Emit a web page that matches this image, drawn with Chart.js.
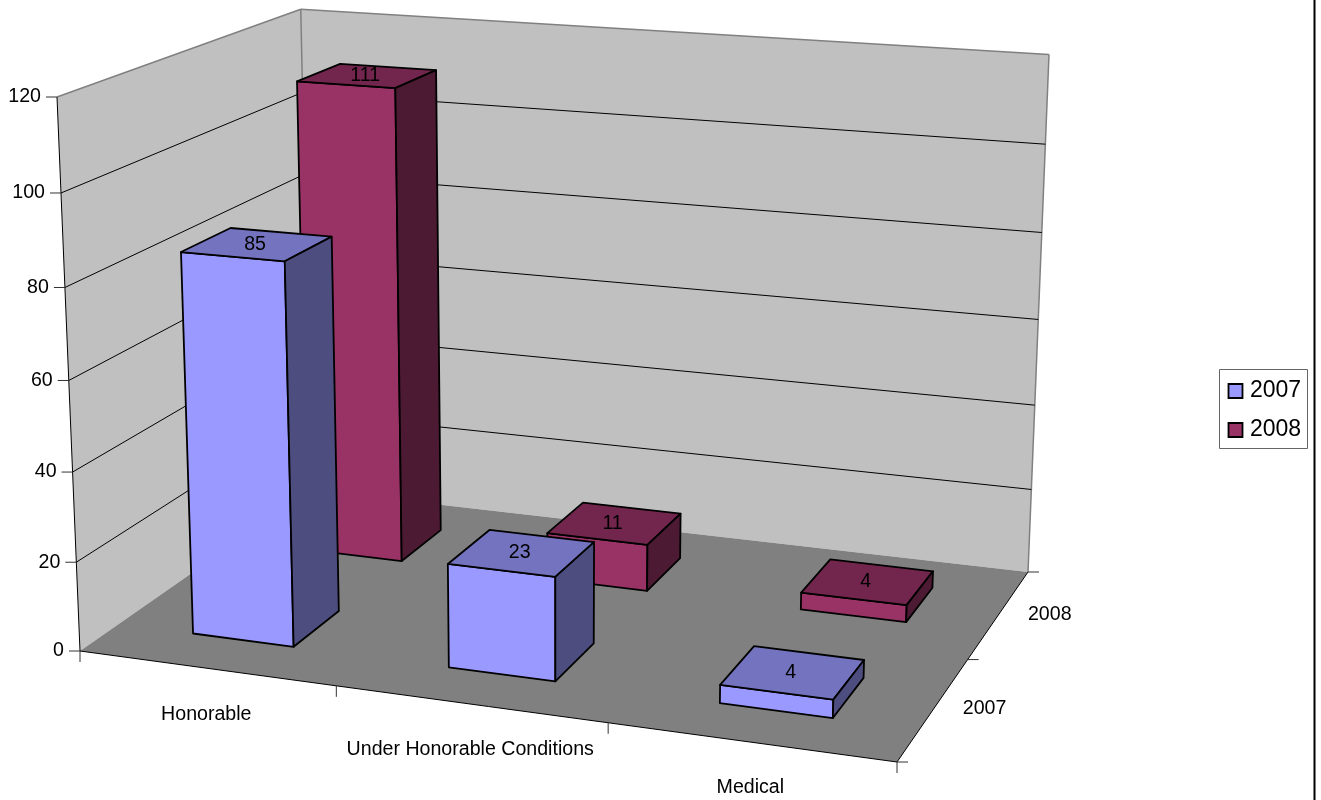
<!DOCTYPE html>
<html>
<head>
<meta charset="utf-8">
<title>Discharges</title>
<script src="https://cdn.jsdelivr.net/npm/chart.js@4/dist/chart.umd.js"></script>
<style>
  body { margin: 0; background: #fff; }
  canvas { display: block; }
</style>
</head>
<body>
<canvas id="chart" width="1321" height="800"></canvas>
<script>
// Dati
const categories = ['Honorable', 'Under Honorable Conditions', 'Medical'];
const seriesNames = ['2007', '2008'];
const values2007 = [85, 23, 4];
const values2008 = [111, 11, 4];
const valueTicks = { min: 0, max: 120, stepSize: 20 };

const FONT = '"Liberation Sans", Arial, sans-serif';
const AXIS_SIZE = 19.6;
const BAR_SHARE = 0.4; // quota di categoria / riga occupata dalla barra

// Angoli della scatola 3D sullo schermo
const box = {
  frontLeft: [80, 651], frontRight: [897, 762],
  backRight: [1028, 572], backLeft: [311, 490],
  topFrontLeft: [57, 97], topBackRight: [1049, 55]
};

// Proiezione prospettica (u categoria, v profondita, w valore; tutti 0..1)
function makeProjection(b) {
  const [Ax, Ay] = b.frontLeft, [Bx, By] = b.frontRight;
  const [Cx, Cy] = b.backRight, [Dx, Dy] = b.backLeft;
  const [Tx, Ty] = b.topFrontLeft, Fx = b.topBackRight[0];
  const dx1 = Bx - Cx, dx2 = Dx - Cx, sx = Ax - Bx + Cx - Dx;
  const dy1 = By - Cy, dy2 = Dy - Cy, sy = Ay - By + Cy - Dy;
  const den = dx1 * dy2 - dx2 * dy1;
  const g = (sx * dy2 - dx2 * sy) / den;
  const h = (dx1 * sy - sx * dy1) / den;
  const a = Bx - Ax + g * Bx, c = Dx - Ax + h * Dx;
  const d = By - Ay + g * By, e = Dy - Ay + h * Dy;
  const k = (Fx * (1 + g + h) - a - c - Tx) / (Tx - Fx);
  const p = Tx * (1 + k) - Ax, q = Ty * (1 + k) - Ay;
  return (u, v, w) => {
    const z = g * u + h * v + k * w + 1;
    // piccola correzione empirica: la parete di fondo sta un po' piu in basso
    return [(a * u + c * v + p * w + Ax) / z, (d * u + e * v + q * w + Ay) / z + 2.5 * v * Math.sqrt(w)];
  };
}
const project = makeProjection(box);

function polygon(ctx, pts, fill, stroke, lineWidth) {
  ctx.beginPath();
  pts.forEach((p, i) => i ? ctx.lineTo(p[0], p[1]) : ctx.moveTo(p[0], p[1]));
  ctx.closePath();
  if (fill) { ctx.fillStyle = fill; ctx.fill(); }
  if (stroke) { ctx.strokeStyle = stroke; ctx.lineWidth = lineWidth; ctx.stroke(); }
}

function line(ctx, p, q, color, lineWidth) {
  ctx.beginPath();
  ctx.moveTo(p[0], p[1]);
  ctx.lineTo(q[0], q[1]);
  ctx.strokeStyle = color;
  ctx.lineWidth = lineWidth;
  ctx.stroke();
}

function label(ctx, text, x, y, align, size) {
  ctx.font = size + 'px ' + FONT;
  ctx.fillStyle = '#000';
  ctx.textAlign = align;
  ctx.textBaseline = 'middle';
  ctx.fillText(text, x, y);
}

// Pareti, pavimento e assi
const box3dWalls = {
  id: 'box3dWalls',
  beforeDatasetsDraw(chart) {
    const ctx = chart.ctx;
    const yScale = chart.scales.y;
    const nCat = categories.length, nSer = seriesNames.length;
    ctx.save();

    polygon(ctx, [project(0,0,0), project(0,1,0), project(0,1,1), project(0,0,1)], '#c0c0c0');
    polygon(ctx, [project(0,1,0), project(1,1,0), project(1,1,1), project(0,1,1)], '#c0c0c0');
    polygon(ctx, [project(0,0,0), project(1,0,0), project(1,1,0), project(0,1,0)], '#808080');

    line(ctx, project(0,0,1), project(0,1,1), '#808080', 1.5);
    line(ctx, project(0,1,1), project(1,1,1), '#808080', 1.5);
    line(ctx, project(0,1,1), project(0,1,0), '#808080', 1.5);
    line(ctx, project(1,1,1), project(1,1,0), '#808080', 1.5);
    line(ctx, project(0,0,1), project(0,0,0), '#000', 1);
    line(ctx, project(0,0,0), project(1,0,0), '#000', 1);
    line(ctx, project(1,0,0), project(1,1,0), '#000', 1);

    // griglia e tacche dei valori
    yScale.ticks.forEach(t => {
      const w = (t.value - yScale.min) / (yScale.max - yScale.min);
      const front = project(0, 0, w);
      if (w > 0 && w < 1) {
        const back = project(0, 1, w);
        line(ctx, front, back, '#000', 1);
        line(ctx, back, project(1, 1, w), '#000', 1);
      }
      line(ctx, [front[0] - 11, front[1]], front, '#333', 1);
      label(ctx, t.label, front[0] - 16, front[1], 'right', AXIS_SIZE);
    });

    // tacche e nomi delle categorie
    for (let i = 0; i <= nCat; i++) {
      const p = project(i / nCat, 0, 0);
      line(ctx, p, [p[0], p[1] + 11], '#333', 1);
      if (i < nCat) {
        const m = project((i + 0.5) / nCat, 0, 0);
        label(ctx, categories[i], m[0], m[1] + 46, 'center', AXIS_SIZE);
      }
    }

    // tacche e nomi delle serie
    for (let i = 0; i <= nSer; i++) {
      const p = project(1, i / nSer, 0);
      line(ctx, p, [p[0] + 11, p[1]], '#333', 1);
      if (i < nSer) {
        const m = project(1, (i + 0.5) / nSer, 0);
        label(ctx, seriesNames[i], m[0] + 29, m[1], 'left', AXIS_SIZE);
      }
    }
    ctx.restore();
  }
};

// Ogni barra di Chart.js viene ridisegnata come parallelepipedo
const box3dBars = {
  id: 'box3dBars',
  beforeDatasetDraw(chart, args) {
    const ctx = chart.ctx;
    const xs = chart.scales.x, ys = chart.scales.y;
    const ds = chart.data.datasets[args.index];
    const nSer = chart.data.datasets.length;
    const vMid = (args.index + 0.5) / nSer;
    const v0 = vMid - BAR_SHARE / nSer / 2, v1 = vMid + BAR_SHARE / nSer / 2;

    ctx.save();
    ctx.lineJoin = 'round';
    args.meta.data.forEach((el, i) => {
      const u0 = (el.x - el.width / 2 - xs.left) / xs.width;
      const u1 = (el.x + el.width / 2 - xs.left) / xs.width;
      const w = (ys.bottom - el.y) / ys.height;
      const outline = '#000';
      polygon(ctx, [project(u0,v0,0), project(u1,v0,0), project(u1,v0,w), project(u0,v0,w)], ds.backgroundColor, outline, 1.8);
      polygon(ctx, [project(u0,v0,w), project(u1,v0,w), project(u1,v1,w), project(u0,v1,w)], ds.topColor, outline, 1.8);
      polygon(ctx, [project(u1,v0,0), project(u1,v1,0), project(u1,v1,w), project(u1,v0,w)], ds.sideColor, outline, 1.8);
      const c = project((u0 + u1) / 2, vMid, w);
      label(ctx, String(ds.data[i]), c[0] - 2, c[1], 'center', AXIS_SIZE);
    });
    ctx.restore();
    return false;
  }
};

// Legenda con cornice e bordo destro della pagina
const legendBox = {
  id: 'legendBox',
  afterDraw(chart) {
    const ctx = chart.ctx;
    ctx.save();
    polygon(ctx, [[1219.5, 369.5], [1307.5, 369.5], [1307.5, 448.5], [1219.5, 448.5]], '#fff', '#666', 1);
    chart.data.datasets.forEach((ds, i) => {
      const y = 391 + i * 39;
      polygon(ctx, [[1228.5, y - 7], [1242.5, y - 7], [1242.5, y + 7], [1228.5, y + 7]], ds.backgroundColor, '#000', 1.8);
      label(ctx, ds.label, 1250, y, 'left', 23);
    });
    line(ctx, [1314.5, 0], [1314.5, 800], '#000', 2);
    ctx.restore();
  }
};

new Chart(document.getElementById('chart').getContext('2d'), {
  type: 'bar',
  data: {
    labels: categories,
    datasets: [
      { label: seriesNames[0], data: values2007, backgroundColor: '#9999ff', topColor: '#7373bf', sideColor: '#4d4d80' },
      { label: seriesNames[1], data: values2008, backgroundColor: '#993366', topColor: '#73264d', sideColor: '#4d1a33' }
    ]
  },
  plugins: [box3dWalls, box3dBars, legendBox],
  options: {
    responsive: false,
    animation: false,
    datasets: { bar: { grouped: false, categoryPercentage: 1, barPercentage: BAR_SHARE } },
    scales: {
      x: { display: false },
      y: { display: false, min: valueTicks.min, max: valueTicks.max, ticks: { stepSize: valueTicks.stepSize } }
    },
    plugins: {
      tooltip: { enabled: false },
      legend: { display: false }
    }
  }
});
</script>
</body>
</html>
